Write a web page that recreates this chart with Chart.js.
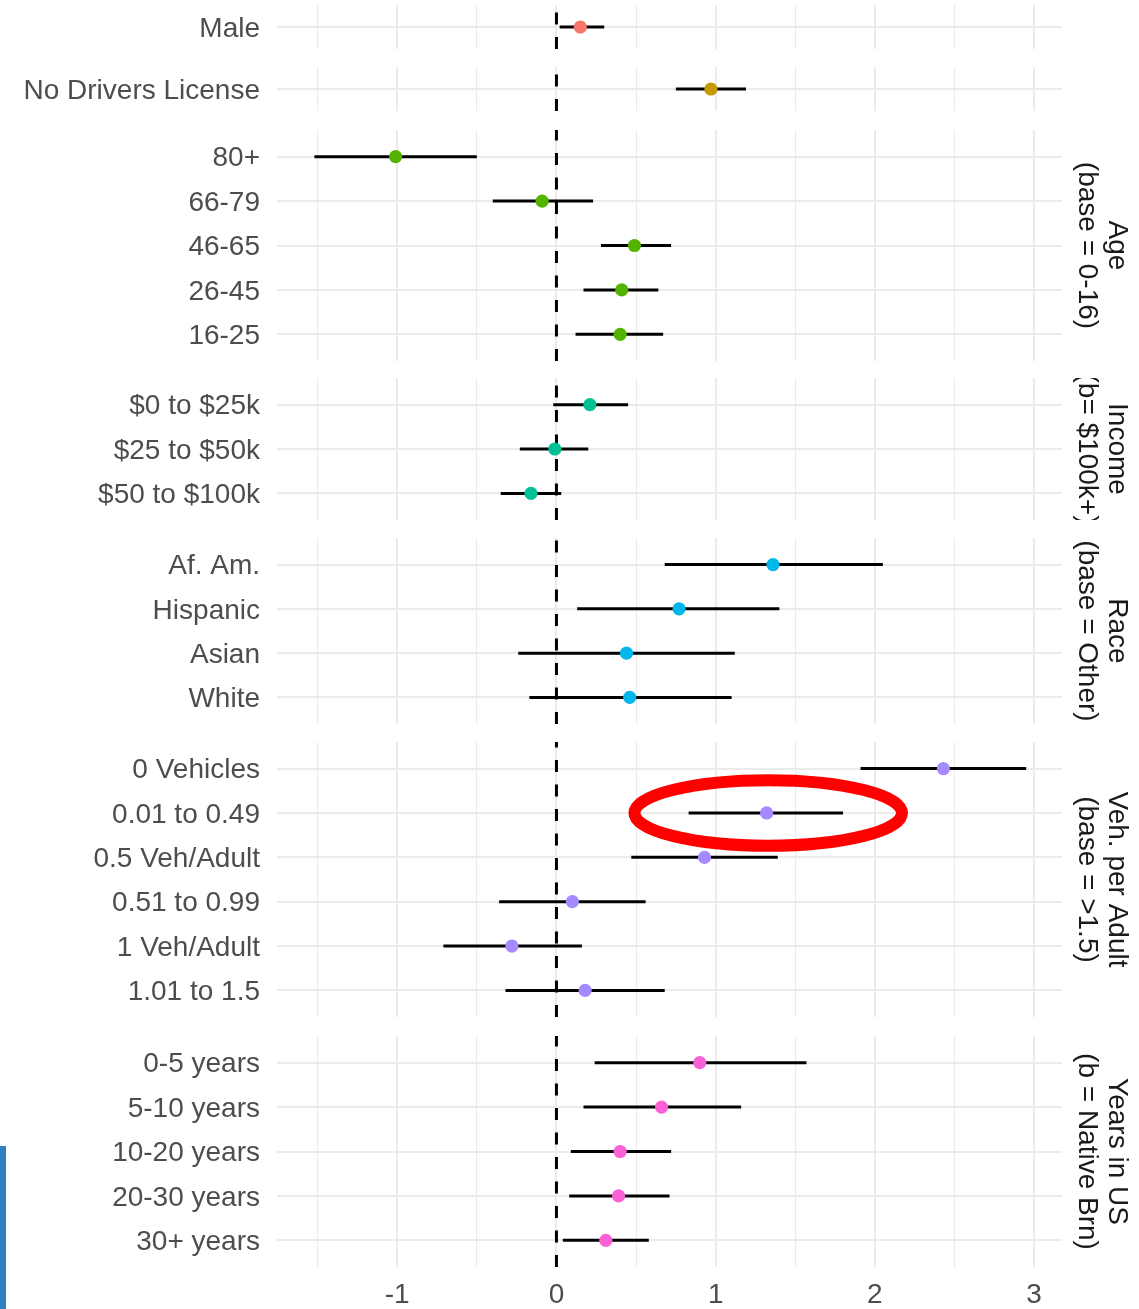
<!DOCTYPE html>
<html>
<head>
<meta charset="utf-8">
<script src="https://cdn.jsdelivr.net/npm/chart.js@4/dist/chart.umd.min.js"></script>
<style>
    html, body { margin: 0; padding: 0; background: #fff; }
    #wrap { position: relative; width: 1139px; height: 1309px; overflow: hidden; }
    #wrap canvas { position: absolute; left: 0; }
    .side-bar { position: absolute; left: 0; top: 1146px; width: 6px; height: 163px; background: #2f80bf; }
</style>
</head>
<body>
<div id="wrap"><div class="side-bar"></div></div>
<script>
// rows, top to bottom
const rowLabels = ['Male', 'No Drivers License',
    '80+', '66-79', '46-65', '26-45', '16-25',
    '$0 to $25k', '$25 to $50k', '$50 to $100k',
    'Af. Am.', 'Hispanic', 'Asian', 'White',
    '0 Vehicles', '0.01 to 0.49', '0.5 Veh/Adult', '0.51 to 0.99', '1 Veh/Adult', '1.01 to 1.5',
    '0-5 years', '5-10 years', '10-20 years', '20-30 years', '30+ years'];
const estimates = [0.15, 0.97,
    -1.01, -0.09, 0.49, 0.41, 0.40,
    0.21, -0.01, -0.16,
    1.36, 0.77, 0.44, 0.46,
    2.43, 1.32, 0.93, 0.10, -0.28, 0.18,
    0.90, 0.66, 0.40, 0.39, 0.31];
const lower = [0.02, 0.75,
    -1.52, -0.40, 0.28, 0.17, 0.12,
    -0.02, -0.23, -0.35,
    0.68, 0.13, -0.24, -0.17,
    1.91, 0.83, 0.47, -0.36, -0.71, -0.32,
    0.24, 0.17, 0.09, 0.08, 0.04];
const upper = [0.30, 1.19,
    -0.50, 0.23, 0.72, 0.64, 0.67,
    0.45, 0.20, 0.03,
    2.05, 1.40, 1.12, 1.10,
    2.95, 1.80, 1.39, 0.56, 0.16, 0.68,
    1.57, 1.16, 0.72, 0.71, 0.58];

const groupSizes = [1, 1, 5, 3, 4, 6, 5];
const groupColors = ['#F8766D', '#C49A00', '#53B400', '#00C094', '#00B6EB', '#A58AFF', '#FB61D7'];
const stripTitles = [[], [], ['Age', '(base = 0-16)'], ['Income', '(b= $100k+)'], ['Race', '(base = Other)'],
    ['Veh. per Adult', '(base = >1.5)'], ['Years in US', '(b = Native Brn)']];
const xTicks = [-1.5, -1, -0.5, 0, 0.5, 1, 1.5, 2, 2.5, 3];

// highlighted estimate (red ring) in the vehicles panel
const highlight = { panel: 5, row: 1, x: 1.33, rx: 0.84, ry: 0.74 };

// layout
const panelTops = [5, 67, 130, 378, 538, 742, 1036];
const ROW_H = 44.4;
const X_MIN = -1.755, X_MAX = 3.175;
const FONT = "'Liberation Sans', Arial, sans-serif";

Chart.defaults.font.family = FONT;

const zeroLine = {
    id: 'zeroLine',
    beforeDatasetsDraw(chart) {
        const { ctx, chartArea, scales } = chart;
        const x = scales.x.getPixelForValue(0);
        ctx.save();
        ctx.strokeStyle = '#000';
        ctx.lineWidth = 3;
        ctx.setLineDash([12, 12.5]);
        ctx.beginPath();
        // dashes start at the bottom edge like ggplot's vline
        ctx.moveTo(x, chartArea.bottom);
        ctx.lineTo(x, chartArea.top);
        ctx.stroke();
        ctx.restore();
    }
};

const stripText = {
    id: 'stripText',
    afterDraw(chart, args, opts) {
        if (!opts.lines || !opts.lines.length) return;
        const { ctx, chartArea } = chart;
        ctx.save();
        ctx.beginPath();
        ctx.rect(chartArea.right, chartArea.top, chart.width - chartArea.right, chartArea.bottom - chartArea.top);
        ctx.clip();
        ctx.translate(1102, (chartArea.top + chartArea.bottom) / 2);
        ctx.rotate(Math.PI / 2);
        ctx.fillStyle = '#1A1A1A';
        ctx.font = '28px ' + FONT;
        ctx.textAlign = 'center';
        ctx.textBaseline = 'middle';
        ctx.fillText(opts.lines[0], 0, -15);
        if (opts.lines[1]) ctx.fillText(opts.lines[1], 0, 15);
        ctx.restore();
    }
};

const ring = {
    id: 'ring',
    afterDatasetsDraw(chart, args, opts) {
        if (!opts.show) return;
        const { ctx, scales } = chart;
        const cx = scales.x.getPixelForValue(highlight.x);
        const cy = scales.y.getPixelForValue(highlight.row);
        const rx = scales.x.getPixelForValue(highlight.x + highlight.rx) - cx;
        const ry = scales.y.getPixelForValue(highlight.row + highlight.ry) - cy;
        ctx.save();
        ctx.strokeStyle = '#FF0000';
        ctx.lineWidth = 12;
        ctx.beginPath();
        ctx.ellipse(cx, cy, Math.abs(rx), Math.abs(ry), 0, 0, Math.PI * 2);
        ctx.stroke();
        ctx.restore();
    }
};

// axes should not reserve room for half labels at their ends
function noEdgePadding(s) {
    s.paddingTop = 0;
    s.paddingBottom = 0;
    s.paddingLeft = 0;
    s.paddingRight = 0;
}

function renderPanel(p, start) {
    const n = groupSizes[p];
    const isLast = p === groupSizes.length - 1;
    const labels = rowLabels.slice(start, start + n);
    const est = estimates.slice(start, start + n);
    const lo = lower.slice(start, start + n);
    const hi = upper.slice(start, start + n);

    const panelH = n === 1 ? 44 : (n + 0.2) * ROW_H;
    const axisH = isLast ? 46 : 0;

    const canvas = document.createElement('canvas');
    canvas.width = 1139;
    canvas.height = Math.round(panelH + axisH);
    canvas.style.top = panelTops[p] + 'px';
    document.getElementById('wrap').appendChild(canvas);

    const datasets = [{
        data: est.map((v, k) => ({ x: v, y: k })),
        backgroundColor: groupColors[p],
        borderWidth: 0,
        pointRadius: 6.6,
        order: 0
    }];
    labels.forEach((_, k) => {
        datasets.push({
            data: [{ x: lo[k], y: k }, { x: hi[k], y: k }],
            showLine: true,
            borderColor: '#000',
            borderWidth: 3,
            pointRadius: 0,
            order: 1
        });
    });

    new Chart(canvas.getContext('2d'), {
        type: 'scatter',
        data: { datasets },
        options: {
            responsive: false,
            animation: false,
            events: [],
            layout: { autoPadding: false, padding: { left: 0, right: 77, top: 0, bottom: 0 } },
            plugins: {
                legend: { display: false },
                tooltip: { enabled: false },
                stripText: { lines: stripTitles[p] },
                ring: { show: p === highlight.panel }
            },
            scales: {
                x: {
                    type: 'linear',
                    min: X_MIN,
                    max: X_MAX,
                    afterBuildTicks: s => { s.ticks = xTicks.map(v => ({ value: v })); },
                    afterFit: s => { s.height = axisH; noEdgePadding(s); },
                    ticks: {
                        display: isLast,
                        autoSkip: false,
                        maxRotation: 0,
                        padding: 11,
                        color: '#4D4D4D',
                        font: { size: 28 },
                        callback: v => Number.isInteger(v) ? String(v) : ''
                    },
                    grid: {
                        color: '#EBEBEB',
                        lineWidth: c => Number.isInteger(c.tick.value) ? 2 : 1.1,
                        drawTicks: false
                    },
                    border: { display: false }
                },
                y: {
                    type: 'linear',
                    reverse: true,
                    min: -0.6,
                    max: n - 0.4,
                    afterBuildTicks: s => { s.ticks = labels.map((_, k) => ({ value: k })); },
                    afterFit: s => { s.width = 277; noEdgePadding(s); },
                    ticks: {
                        autoSkip: false,
                        padding: 17,
                        labelOffset: 2,
                        color: '#4D4D4D',
                        font: { size: 28 },
                        callback: v => labels[v]
                    },
                    grid: { color: '#EBEBEB', lineWidth: 2, drawTicks: false },
                    border: { display: false }
                }
            }
        },
        plugins: [zeroLine, stripText, ring]
    });
}

let start = 0;
groupSizes.forEach((n, p) => {
    renderPanel(p, start);
    start += n;
});
</script>
</body>
</html>
